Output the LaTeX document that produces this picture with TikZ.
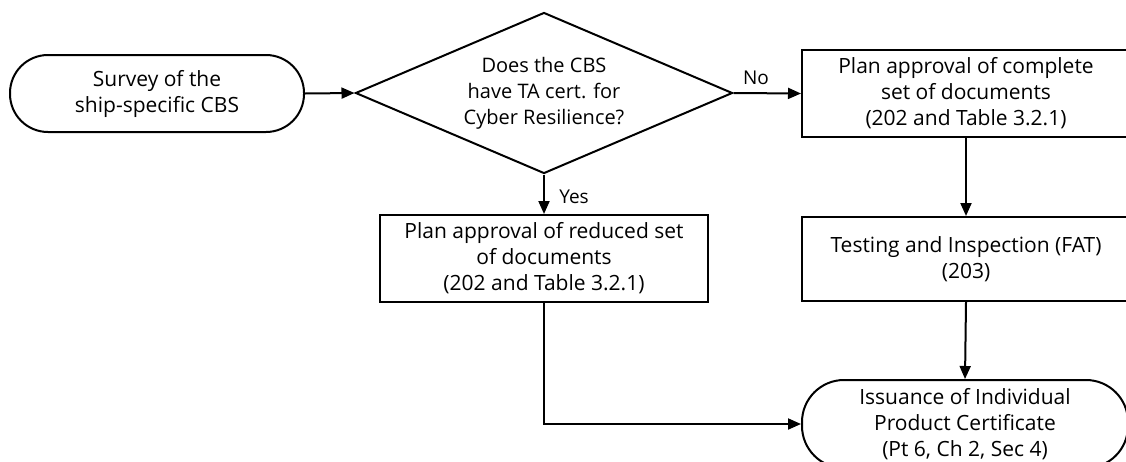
\documentclass[tikz,border=0pt]{standalone}
\usepackage{fontspec}
\setmainfont{Open Sans}
\usetikzlibrary{shapes.geometric,arrows.meta}
\begin{document}
\begin{tikzpicture}[x=1pt,y=-1pt,
  every node/.style={font=\fontsize{21}{26}\selectfont, align=center, inner sep=0pt},
  terminal/.style={draw, line width=2pt, rounded corners=38pt, minimum width=294pt, minimum height=77pt},
  procbox/.style={draw, line width=2pt, minimum width=328pt, minimum height=87pt},
  decision/.style={draw, line width=2pt, diamond, shape aspect=2.34, minimum width=377pt, minimum height=161pt, font=\fontsize{20}{26}\selectfont},
  conn/.style={line width=2pt, -{Triangle[length=13pt,width=11pt]}},
  lbl/.style={font=\fontsize{19}{24}\selectfont}
]
\useasboundingbox (0,0) rectangle (1126,461);
\node[terminal] (survey) at (157,93.5) {Survey of the\\ship-specific CBS};
\node[decision] (dia) at (544,93) {Does the CBS\\have TA cert. for\\Cyber Resilience?};
\node[procbox] (comp) at (966,93.5) {Plan approval of complete\\set of documents\\(202 and Table 3.2.1)};
\node[procbox, minimum height=84pt] (test) at (966,259) {Testing and Inspection (FAT)\\(203)};
\node[procbox] (red) at (544,258.5) {Plan approval of reduced set\\of documents\\(202 and Table 3.2.1)};
\node[terminal, minimum width=326pt, minimum height=88pt, rounded corners=42pt] (iss) at (965,424) {Issuance of Individual\\Product Certificate\\(Pt 6, Ch 2, Sec 4)};
\node[lbl] (no) at (756,78) {No};
\node[lbl] (yes) at (574,197) {Yes};
\draw[conn] (survey.east) -- (dia.west);
\draw[conn] (dia.east) -- (comp.west);
\draw[conn] (dia.south) -- (red.north);
\draw[conn] (comp.south) -- (test.north);
\draw[conn] (test.south) -- (iss.north);
\draw[conn] (red.south) |- (iss.west);
\end{tikzpicture}
\end{document}
